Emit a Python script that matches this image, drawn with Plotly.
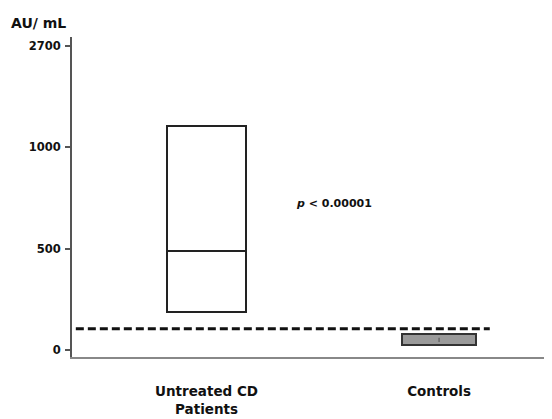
import plotly.graph_objects as go

# ---- data ----
categories = ["<b>Untreated CD</b><br><b>Patients</b>", "<b>Controls</b>"]
q1_vals = [187, 25]
median_vals = [488, 50]
q3_vals = [1103, 79]
cutoff = 105
y_tick_vals = [0, 500, 1000, 1500]
y_tick_text = ["<b>0</b>", "<b>500</b>", "<b>1000</b>", "<b>2700</b>"]
y_unit = "<b>AU/ mL</b>"
p_text = "<b><i>p</i> < 0.00001</b>"

FONT = "DejaVu Sans"
x_pos = list(range(len(categories)))

fig = go.Figure()

# boxes as bars with base
fig.add_trace(go.Bar(
    x=[x_pos[0]], base=[q1_vals[0]], y=[q3_vals[0] - q1_vals[0]],
    width=0.34, marker=dict(color="white", line=dict(color="#222", width=2)),
    showlegend=False, hoverinfo="skip"))
fig.add_trace(go.Bar(
    x=[x_pos[1]], base=[q1_vals[1]], y=[q3_vals[1] - q1_vals[1]],
    width=0.318, marker=dict(color="#9a9a9a", line=dict(color="#333", width=2)),
    showlegend=False, hoverinfo="skip"))

# median of patients box
fig.add_trace(go.Scatter(
    x=[x_pos[0] - 0.17, x_pos[0] + 0.17], y=[median_vals[0]] * 2,
    mode="lines", line=dict(color="#222", width=2),
    showlegend=False, hoverinfo="skip"))
# tiny median mark for controls
fig.add_trace(go.Scatter(
    x=[x_pos[1]], y=[median_vals[1]], mode="markers",
    marker=dict(symbol="line-ns", size=3, line=dict(color="#666", width=1.5)),
    showlegend=False, hoverinfo="skip"))

# cutoff dashed line
fig.add_shape(type="line", xref="paper", yref="y", x0=0.008, x1=0.874,
              y0=cutoff, y1=cutoff, line=dict(color="#111", width=3, dash="8px,4px"))

fig.add_annotation(text=y_unit, xref="paper", yref="paper", x=-0.132, y=1.045,
                   xanchor="left", yanchor="middle", showarrow=False,
                   font=dict(family=FONT, size=14, color="#111"))
fig.add_annotation(text=p_text, xref="paper", yref="y", x=0.465, y=720,
                   xanchor="left", yanchor="middle", showarrow=False,
                   font=dict(family=FONT, size=11, color="#111"))

# page body has an 8px margin, so the figure is shifted by 8px
fig.update_layout(
    width=544, height=411,
    margin=dict(l=64, r=2, t=29, b=62),
    plot_bgcolor="white", paper_bgcolor="white",
    bargap=0, barmode="overlay",
    font=dict(family=FONT, color="#111"),
)
fig.update_xaxes(
    range=[-0.5785, 1.477], tickvals=x_pos, ticktext=categories,
    showline=True, linecolor="#888", linewidth=2, ticks="",
    showgrid=False, zeroline=False, ticklabelstandoff=21,
    tickfont=dict(family=FONT, size=13.5, color="#111"))
fig.update_yaxes(
    range=[-34, 1542], tickvals=y_tick_vals, ticktext=y_tick_text,
    showline=True, linecolor="#555", linewidth=2, ticks="outside",
    ticklen=5, tickwidth=2, tickcolor="#555",
    showgrid=False, zeroline=False, ticklabelstandoff=2,
    tickfont=dict(family=FONT, size=11.5, color="#111"))

fig.write_html("out.html")
